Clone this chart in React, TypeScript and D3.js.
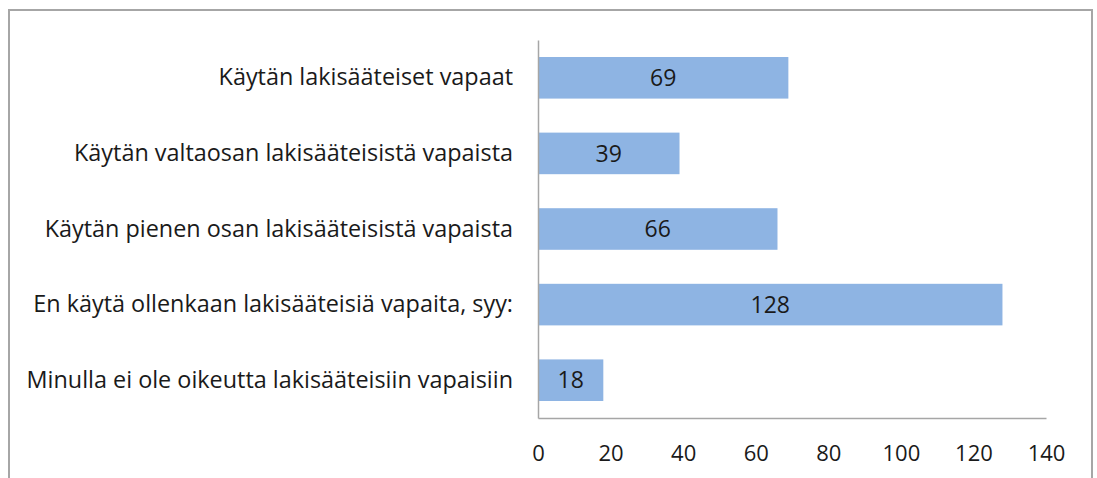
import React, { useEffect, useRef } from "react";
import * as d3 from "d3";

// data
const categories = [
  "Käytän lakisääteiset vapaat",
  "Käytän valtaosan lakisääteisistä vapaista",
  "Käytän pienen osan lakisääteisistä vapaista",
  "En käytä ollenkaan lakisääteisiä vapaita, syy:",
  "Minulla ei ole oikeutta lakisääteisiin vapaisiin",
];
const values = [69, 39, 66, 128, 18];
const xTicks = [0, 20, 40, 60, 80, 100, 120, 140];

const W = 1097;
const H = 478;
const FONT = "'Open Sans', 'Noto Sans', sans-serif";

function App() {
  const svgRef = useRef<SVGSVGElement>(null);

  useEffect(() => {
    const svg = d3.select(svgRef.current);
    svg.selectAll("*").remove();

    const left = 538;
    const right = 1046;
    const top = 40;
    const bottom = 418;

    const x = d3.scaleLinear().domain([0, 140]).range([left, right]);
    const y = d3
      .scaleBand()
      .domain(categories)
      .range([top, bottom])
      .paddingInner(0.45)
      .paddingOuter(0.225);

    // outer frame (bottom edge is cut off)
    svg
      .append("rect")
      .attr("x", 9)
      .attr("y", 10)
      .attr("width", 1083)
      .attr("height", 500)
      .attr("fill", "#fff")
      .attr("stroke", "#a6a6a6")
      .attr("stroke-width", 2);

    // bars
    const rows = categories.map((c, i) => ({ c, v: values[i] }));
    svg
      .append("g")
      .selectAll("rect")
      .data(rows)
      .join("rect")
      .attr("x", x(0))
      .attr("y", (d) => y(d.c)!)
      .attr("width", (d) => x(d.v) - x(0))
      .attr("height", y.bandwidth())
      .attr("fill", "#8eb4e3");

    // value labels
    svg
      .append("g")
      .selectAll("text")
      .data(rows)
      .join("text")
      .attr("x", (d) => (x(0) + x(d.v)) / 2)
      .attr("y", (d) => y(d.c)! + y.bandwidth() / 2)
      .attr("dy", "0.36em")
      .attr("text-anchor", "middle")
      .attr("font-family", FONT)
      .attr("font-size", 23)
      .attr("fill", "#1a1a1a")
      .text((d) => d.v);

    // y axis
    const yAxis = d3.axisLeft(y).tickSize(0).tickPadding(25);
    const gy = svg.append("g").attr("transform", `translate(${left},0)`).call(yAxis);
    gy.select(".domain").attr("stroke", "#a6a6a6").attr("stroke-width", 1.5);
    gy.selectAll("text")
      .attr("font-family", FONT)
      .attr("font-size", 23.4)
      .attr("fill", "#1a1a1a");

    // x axis
    const xAxis = d3.axisBottom(x).tickValues(xTicks).tickSize(0).tickPadding(27);
    const gx = svg.append("g").attr("transform", `translate(0,${bottom})`).call(xAxis);
    gx.select(".domain").attr("stroke", "#a6a6a6").attr("stroke-width", 1.5);
    gx.selectAll("text")
      .attr("font-family", FONT)
      .attr("font-size", 22)
      .attr("fill", "#1a1a1a");
  }, []);

  return (
    <svg
      ref={svgRef}
      width={W}
      height={H}
      style={{ position: "absolute", left: 0, top: 0, background: "#fff" }}
    />
  );
}

export default App;
